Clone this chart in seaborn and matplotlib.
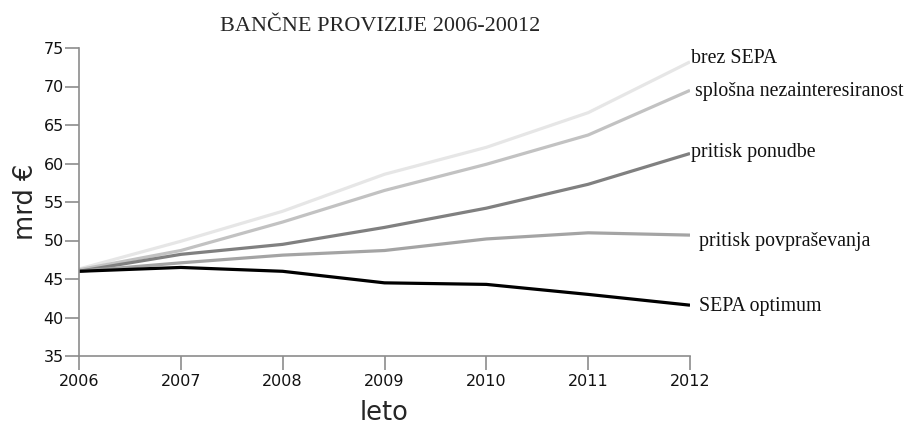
import matplotlib
matplotlib.use("Agg")
import matplotlib.pyplot as plt
import seaborn as sns
import pandas as pd

# Bank fee scenarios, billion EUR
years = [2006, 2007, 2008, 2009, 2010, 2011, 2012]
brez_sepa = [46.3, 49.9, 53.8, 58.6, 62.1, 66.6, 73.2]
splosna_nezainteresiranost = [46.2, 48.7, 52.4, 56.5, 59.9, 63.7, 69.5]
pritisk_ponudbe = [46.0, 48.2, 49.5, 51.7, 54.2, 57.3, 61.3]
pritisk_povprasevanja = [46.0, 47.1, 48.1, 48.7, 50.2, 51.0, 50.7]
sepa_optimum = [46.0, 46.5, 46.0, 44.5, 44.3, 43.0, 41.6]

series_names = [
    "brez SEPA",
    "splošna nezainteresiranost",
    "pritisk ponudbe",
    "pritisk povpraševanja",
    "SEPA optimum",
]
series_values = [
    brez_sepa,
    splosna_nezainteresiranost,
    pritisk_ponudbe,
    pritisk_povprasevanja,
    sepa_optimum,
]
y_ticks = [35, 40, 45, 50, 55, 60, 65, 70, 75]

colors = {
    "brez SEPA": "#e6e6e6",
    "splošna nezainteresiranost": "#c2c2c2",
    "pritisk ponudbe": "#808080",
    "pritisk povpraševanja": "#a4a4a4",
    "SEPA optimum": "#000000",
}
# label offsets from each line's end point, in pixels
label_offsets = {
    "brez SEPA": (1, -1),
    "splošna nezainteresiranost": (5, -6),
    "pritisk ponudbe": (1, -4),
    "pritisk povpraševanja": (9, -11),
    "SEPA optimum": (9, -6),
}

df = pd.DataFrame(
    [(n, y, v) for n, vals in zip(series_names, series_values) for y, v in zip(years, vals)],
    columns=["serija", "leto", "vrednost"],
)

sns.set_theme(style="white")
plt.rcParams["font.family"] = ["DejaVu Sans"]

fig = plt.figure(figsize=(9.06, 4.26), dpi=100)
ax = fig.add_axes([79 / 906, 70 / 426, 611 / 906, 308 / 426])

sns.lineplot(
    data=df, x="leto", y="vrednost", hue="serija", hue_order=series_names,
    palette=colors, linewidth=2.3, legend=False, ax=ax,
)
for line in ax.get_lines():
    line.set_solid_capstyle("butt")

ax.set_xlim(2006, 2012)
ax.set_ylim(35, 75)
ax.set_xticks(years)
ax.set_xticklabels([str(y) for y in years])
ax.set_yticks(y_ticks)

for side in ("top", "right"):
    ax.spines[side].set_visible(False)
for side in ("left", "bottom"):
    ax.spines[side].set_color("#8c8c8c")
    ax.spines[side].set_linewidth(1.2)

ax.tick_params(axis="both", direction="out", length=10, width=1.2, color="#8c8c8c",
               labelsize=11.5, labelcolor="#111111")
ax.tick_params(axis="y", pad=1)
ax.tick_params(axis="x", pad=3)
ax.tick_params(left=True, bottom=True)

ax.set_xlabel("leto", fontsize=18.5, labelpad=8)
ax.set_ylabel("mrd €", fontsize=18.5, labelpad=3)

ax.set_title("BANČNE PROVIZIJE 2006-20012", family="Liberation Serif", fontsize=16,
             pad=12, x=0.493)

for name, vals in zip(series_names, series_values):
    dx, dy = label_offsets[name]
    ax.annotate(name, xy=(years[-1], vals[-1]), xytext=(dx, dy),
                textcoords="offset pixels", ha="left", va="baseline",
                family="Liberation Serif", fontsize=14.3, color="#111111",
                annotation_clip=False)

fig.savefig("out.png", dpi=100)
